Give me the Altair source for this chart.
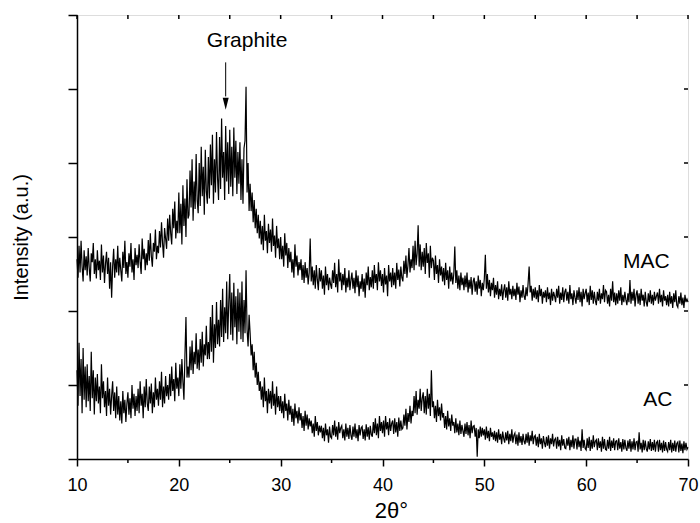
import altair as alt
import pandas as pd

# ---- values (intensity, a.u.), 2theta = 10.0 ... 70.0 step 0.1 ----
mac = [
    2.70, 2.45, 2.88, 2.52, 2.95, 2.60, 2.40, 2.82, 2.55, 2.74,
    2.48, 2.85, 2.58, 2.40, 2.78, 2.66, 2.92, 2.50, 2.70, 2.44,
    2.82, 2.55, 2.68, 2.42, 2.90, 2.52, 2.75, 2.38, 2.64, 2.80,
    2.50, 2.72, 2.30, 2.66, 2.18, 2.60, 2.84, 2.45, 2.70, 2.52,
    2.88, 2.48, 2.72, 2.55, 2.40, 2.80, 2.58, 2.95, 2.50, 2.66,
    2.45, 2.78, 2.60, 2.92, 2.52, 2.70, 2.42, 2.85, 2.62, 2.76,
    2.58, 2.90, 2.66, 2.50, 2.98, 2.70, 2.84, 2.55, 2.78, 2.62,
    2.96, 2.68, 3.05, 2.74, 2.60, 2.92, 2.80, 3.10, 2.70, 2.88,
    2.78, 3.08, 2.86, 3.20, 2.92, 2.72, 3.12, 2.98, 2.84, 3.25,
    2.95, 3.30, 3.05, 2.90, 3.38, 3.12, 3.48, 2.98, 3.22, 3.05,
    3.60, 3.05, 3.45, 2.90, 3.70, 3.15, 3.52, 3.00, 3.78, 3.25,
    3.30, 3.90, 3.40, 4.05, 3.22, 3.75, 3.38, 4.12, 3.50, 3.32,
    4.00, 3.42, 4.22, 3.55, 3.95, 3.30, 4.18, 3.62, 3.45, 4.08,
    3.52, 4.25, 3.70, 4.38, 3.45, 4.05, 3.60, 4.42, 3.80, 3.50,
    4.35, 3.65, 4.60, 3.80, 4.15, 3.50, 4.50, 3.75, 4.28, 3.58,
    4.45, 3.68, 4.22, 3.55, 4.48, 3.80, 4.30, 3.58, 4.15, 3.72,
    4.28, 3.50, 4.05, 3.45, 4.20, 4.30, 5.03, 3.60, 4.00, 3.35,
    3.72, 3.35, 3.60, 3.20, 3.50, 3.12, 3.38, 3.05, 3.30, 2.98,
    3.22, 2.90, 3.15, 2.82, 3.30, 2.95, 3.08, 2.78, 3.18, 2.92,
    3.10, 2.80, 3.25, 2.88, 3.02, 2.72, 3.15, 2.85, 2.98, 2.70,
    3.00, 2.70, 2.88, 2.60, 3.05, 2.75, 2.92, 2.58, 2.85, 2.66,
    2.80, 2.52, 2.70, 2.45, 2.90, 2.60, 2.75, 2.48, 2.66, 2.55,
    2.70, 2.42, 2.62, 2.38, 2.66, 2.45, 2.58, 2.36, 2.52, 2.98,
    2.40, 2.60, 2.35, 2.55, 2.30, 2.62, 2.42, 2.28, 2.58, 2.40,
    2.55, 2.30, 2.48, 2.22, 2.60, 2.35, 2.50, 2.28, 2.45, 2.36,
    2.30, 2.55, 2.38, 2.65, 2.32, 2.50, 2.25, 2.70, 2.40, 2.52,
    2.28, 2.50, 2.35, 2.58, 2.25, 2.45, 2.32, 2.55, 2.28, 2.42,
    2.52, 2.30, 2.45, 2.24, 2.55, 2.32, 2.48, 2.20, 2.40, 2.30,
    2.50, 2.26, 2.44, 2.18, 2.52, 2.35, 2.60, 2.28, 2.46, 2.32,
    2.55, 2.30, 2.62, 2.38, 2.50, 2.28, 2.66, 2.40, 2.55, 2.34,
    2.50, 2.25, 2.58, 2.36, 2.48, 2.20, 2.62, 2.40, 2.52, 2.32,
    2.58, 2.35, 2.52, 2.30, 2.65, 2.42, 2.56, 2.33, 2.60, 2.45,
    2.40, 2.68, 2.50, 2.75, 2.45, 2.62, 2.85, 2.52, 2.70, 2.58,
    2.88, 2.55, 2.95, 2.62, 2.78, 3.16, 2.60, 2.90, 2.55, 2.80,
    2.60, 2.85, 2.50, 2.92, 2.65, 2.78, 2.45, 2.88, 2.58, 2.72,
    2.68, 2.42, 2.75, 2.50, 2.62, 2.38, 2.70, 2.48, 2.60, 2.40,
    2.58, 2.35, 2.65, 2.42, 2.55, 2.30, 2.60, 2.40, 2.52, 2.36,
    2.50, 2.87, 2.38, 2.55, 2.30, 2.48, 2.28, 2.52, 2.35, 2.45,
    2.28, 2.48, 2.32, 2.52, 2.25, 2.42, 2.30, 2.46, 2.22, 2.40,
    2.45, 2.26, 2.40, 2.22, 2.48, 2.30, 2.42, 2.20, 2.38, 2.28,
    2.44, 2.76, 2.30, 2.50, 2.25, 2.42, 2.20, 2.38, 2.28, 2.45,
    2.18, 2.35, 2.22, 2.40, 2.16, 2.30, 2.20, 2.36, 2.15, 2.28,
    2.36, 2.18, 2.32, 2.14, 2.40, 2.22, 2.30, 2.16, 2.34, 2.20,
    2.30, 2.15, 2.38, 2.22, 2.33, 2.12, 2.28, 2.18, 2.35, 2.20,
    2.15, 2.32, 2.20, 2.38, 2.60, 2.25, 2.34, 2.14, 2.30, 2.18,
    2.32, 2.16, 2.28, 2.12, 2.35, 2.20, 2.30, 2.10, 2.26, 2.18,
    2.28, 2.12, 2.32, 2.16, 2.25, 2.08, 2.30, 2.14, 2.26, 2.20,
    2.12, 2.30, 2.18, 2.34, 2.10, 2.25, 2.15, 2.32, 2.12, 2.26,
    2.30, 2.14, 2.26, 2.10, 2.35, 2.16, 2.24, 2.08, 2.28, 2.18,
    2.10, 2.28, 2.15, 2.32, 2.12, 2.26, 2.06, 2.30, 2.16, 2.24,
    2.30, 2.12, 2.25, 2.08, 2.34, 2.15, 2.28, 2.10, 2.26, 2.14,
    2.08, 2.26, 2.14, 2.30, 2.10, 2.24, 2.16, 2.35, 2.12, 2.28,
    2.26, 2.10, 2.22, 2.06, 2.30, 2.14, 2.40, 2.12, 2.25, 2.08,
    2.24, 2.10, 2.28, 2.14, 2.32, 2.08, 2.22, 2.12, 2.26, 2.15,
    2.08, 2.24, 2.12, 2.42, 2.10, 2.26, 2.14, 2.30, 2.06, 2.22,
    2.28, 2.10, 2.24, 2.08, 2.30, 2.14, 2.22, 2.06, 2.26, 2.12,
    2.06, 2.24, 2.12, 2.28, 2.10, 2.22, 2.08, 2.26, 2.14, 2.20,
    2.25, 2.10, 2.30, 2.12, 2.22, 2.06, 2.28, 2.14, 2.20, 2.08,
    2.22, 2.06, 2.26, 2.10, 2.20, 2.04, 2.24, 2.12, 2.28, 2.08,
    2.05, 2.20, 2.10, 2.25, 2.08, 2.18, 2.04, 2.22, 2.12, 2.16,
    2.12,
]

ac = [
    1.20, 0.72, 1.57, 0.85, 1.35, 0.62, 1.50, 0.80, 1.25, 0.70,
    1.28, 0.78, 1.12, 0.65, 1.45, 0.82, 1.20, 0.60, 1.10, 0.78,
    1.15, 0.75, 0.98, 0.62, 1.28, 0.82, 1.05, 0.70, 0.92, 0.58,
    1.10, 0.72, 0.95, 0.60, 0.85, 1.05, 0.65, 0.90, 0.55, 0.98,
    0.60, 0.85, 0.52, 0.78, 0.48, 0.92, 0.62, 0.80, 0.50, 0.75,
    0.90, 0.60, 0.82, 0.55, 1.00, 0.68, 0.88, 0.58, 0.85, 0.65,
    0.95, 0.62, 1.05, 0.72, 0.88, 0.55, 0.98, 0.70, 1.08, 0.75,
    0.65, 0.98, 0.75, 1.02, 0.62, 0.90, 0.70, 1.10, 0.80, 0.95,
    0.72, 1.05, 0.80, 1.18, 0.70, 0.98, 0.75, 1.12, 0.85, 1.00,
    0.80, 1.15, 0.85, 1.25, 0.92, 1.08, 0.78, 1.30, 0.95, 1.10,
    0.85, 1.28, 0.95, 1.35, 1.05, 0.80, 1.40, 1.92, 1.10, 1.25,
    1.10, 1.52, 1.20, 1.60, 1.15, 1.45, 1.28, 1.70, 1.22, 1.48,
    1.20, 1.62, 1.30, 1.72, 1.25, 1.55, 1.40, 1.80, 1.35, 1.58,
    1.35, 1.92, 1.45, 2.08, 1.30, 1.82, 1.50, 2.12, 1.55, 1.88,
    1.52, 2.15, 1.65, 2.30, 1.58, 2.05, 1.70, 2.40, 1.62, 2.10,
    2.50, 1.68, 2.25, 1.60, 2.38, 1.78, 2.20, 1.55, 2.30, 1.72,
    2.25, 1.62, 2.40, 1.58, 2.15, 1.70, 2.55, 1.75, 1.52, 1.95,
    1.70, 1.40, 1.55, 1.20, 1.45, 1.10, 1.30, 1.00, 1.18, 0.92,
    1.05, 0.80, 0.98, 0.70, 1.10, 0.78, 0.92, 0.62, 0.95, 0.75,
    0.92, 0.68, 1.05, 0.72, 0.88, 0.60, 0.98, 0.70, 0.85, 0.65,
    0.85, 0.62, 0.78, 0.55, 0.88, 0.65, 0.75, 0.52, 0.80, 0.60,
    0.72, 0.50, 0.68, 0.45, 0.75, 0.55, 0.65, 0.48, 0.70, 0.52,
    0.62, 0.42, 0.58, 0.38, 0.65, 0.45, 0.60, 0.40, 0.55, 0.44,
    0.52, 0.35, 0.48, 0.30, 0.58, 0.38, 0.50, 0.32, 0.45, 0.36,
    0.45, 0.28, 0.42, 0.24, 0.48, 0.32, 0.40, 0.22, 0.44, 0.30,
    0.28, 0.46, 0.32, 0.52, 0.30, 0.44, 0.26, 0.50, 0.35, 0.42,
    0.45, 0.28, 0.40, 0.25, 0.48, 0.30, 0.42, 0.27, 0.46, 0.32,
    0.26, 0.44, 0.30, 0.48, 0.28, 0.40, 0.24, 0.46, 0.32, 0.42,
    0.44, 0.27, 0.40, 0.25, 0.47, 0.30, 0.43, 0.26, 0.45, 0.33,
    0.30, 0.50, 0.35, 0.55, 0.32, 0.48, 0.28, 0.58, 0.38, 0.50,
    0.35, 0.52, 0.30, 0.58, 0.40, 0.50, 0.32, 0.55, 0.38, 0.48,
    0.52, 0.34, 0.55, 0.36, 0.50, 0.30, 0.56, 0.38, 0.52, 0.40,
    0.42, 0.60, 0.45, 0.68, 0.40, 0.62, 0.50, 0.72, 0.48, 0.65,
    0.58, 0.85, 0.62, 0.92, 0.60, 0.80, 0.68, 0.95, 0.65, 0.82,
    0.90, 0.62, 0.85, 0.60, 0.95, 0.68, 0.88, 0.58, 1.20, 0.70,
    0.78, 0.55, 0.72, 0.50, 0.80, 0.58, 0.70, 0.52, 0.75, 0.56,
    0.62, 0.42, 0.58, 0.40, 0.65, 0.44, 0.55, 0.38, 0.60, 0.45,
    0.50, 0.35, 0.55, 0.36, 0.48, 0.32, 0.52, 0.34, 0.46, 0.38,
    0.30, 0.48, 0.34, 0.50, 0.32, 0.46, 0.28, 0.52, 0.35, 0.44,
    0.45, 0.30, 0.42, 0.03, 0.40, 0.28, 0.44, 0.30, 0.42, 0.32,
    0.40, 0.26, 0.44, 0.28, 0.38, 0.24, 0.42, 0.30, 0.36, 0.26,
    0.38, 0.24, 0.36, 0.22, 0.40, 0.26, 0.34, 0.20, 0.37, 0.28,
    0.22, 0.36, 0.25, 0.38, 0.20, 0.34, 0.24, 0.40, 0.22, 0.32,
    0.35, 0.20, 0.33, 0.18, 0.36, 0.22, 0.31, 0.19, 0.34, 0.24,
    0.20, 0.34, 0.22, 0.36, 0.18, 0.32, 0.24, 0.38, 0.20, 0.30,
    0.32, 0.18, 0.30, 0.16, 0.34, 0.20, 0.28, 0.14, 0.31, 0.22,
    0.16, 0.30, 0.18, 0.32, 0.14, 0.28, 0.20, 0.34, 0.17, 0.26,
    0.28, 0.14, 0.30, 0.17, 0.26, 0.12, 0.32, 0.18, 0.27, 0.15,
    0.14, 0.28, 0.18, 0.30, 0.12, 0.26, 0.16, 0.32, 0.14, 0.27,
    0.27, 0.13, 0.30, 0.16, 0.25, 0.11, 0.40, 0.15, 0.26, 0.14,
    0.12, 0.28, 0.15, 0.30, 0.11, 0.26, 0.14, 0.32, 0.16, 0.24,
    0.26, 0.12, 0.28, 0.15, 0.24, 0.10, 0.30, 0.14, 0.27, 0.13,
    0.12, 0.26, 0.14, 0.30, 0.11, 0.25, 0.15, 0.28, 0.12, 0.24,
    0.25, 0.12, 0.28, 0.14, 0.23, 0.10, 0.27, 0.13, 0.26, 0.15,
    0.11, 0.25, 0.14, 0.27, 0.10, 0.24, 0.13, 0.28, 0.12, 0.23,
    0.24, 0.10, 0.36, 0.13, 0.22, 0.09, 0.26, 0.12, 0.25, 0.14,
    0.10, 0.24, 0.13, 0.27, 0.11, 0.23, 0.12, 0.26, 0.10, 0.22,
    0.24, 0.10, 0.26, 0.12, 0.22, 0.09, 0.25, 0.11, 0.23, 0.13,
    0.10, 0.23, 0.12, 0.26, 0.09, 0.22, 0.11, 0.25, 0.10, 0.21,
    0.23, 0.09, 0.25, 0.11, 0.21, 0.08, 0.24, 0.12, 0.22, 0.13,
    0.16,
]

x_start, x_step = 10.0, 0.1           # sampling grid of the scan
x_ticks = [10, 20, 30, 40, 50, 60, 70]
x_minor = [15, 25, 35, 45, 55, 65]
top_ticks = [10, 15, 20, 25, 30, 35, 40, 45, 50, 55, 60, 65, 70]
y_ticks = [0, 1, 2, 3, 4, 5, 6]
right_ticks = [1, 2, 3, 4, 5]

labels = ["MAC", "AC"]
label_x = [65.9, 67.05]
label_y = [2.66, 0.80]

note_text = ["Graphite"]
note_x = [26.7]
note_y = [5.65]
arrow_x = [24.6]
arrow_top = [5.36]
arrow_bottom = [4.90]
arrow_head = [4.80]

FONT = "Liberation Sans"

assert len(mac) == 601 and len(ac) == 601

rows = []
for name, vals in (("MAC", mac), ("AC", ac)):
    for i, v in enumerate(vals):
        rows.append({"x": round(x_start + i * x_step, 1), "y": v, "series": name})
df = pd.DataFrame(rows)

xs = alt.Scale(domain=[10, 70], nice=False, zero=False)
ys = alt.Scale(domain=[0, 6], nice=False, zero=False)

xaxis = alt.Axis(values=x_ticks, title="2θ°", tickSize=7, tickWidth=1.5,
                 tickColor="black", domainColor="black", domainWidth=1.5,
                 labelFont=FONT, labelFontSize=18, labelColor="black",
                 labelFlush=False, labelPadding=10, titleFont=FONT,
                 titleFontSize=22, titleFontWeight="normal",
                 titleColor="black", titlePadding=6, titleX=314,
                 titleAlign="center", grid=False, format="d")
yaxis = alt.Axis(values=y_ticks, title="Intensity (a.u.)", tickSize=9,
                 tickWidth=1.5, tickColor="black", domainColor="black",
                 domainWidth=1.5, labels=False, titleFont=FONT,
                 titleFontSize=20, titleFontWeight="normal",
                 titleColor="black", titlePadding=36, grid=False)

X = alt.X("x:Q", scale=xs, axis=xaxis)
Y = alt.Y("y:Q", scale=ys, axis=yaxis)

lines = alt.Chart(df).mark_line(color="black", strokeWidth=1.2).encode(
    x=X, y=Y, detail="series:N")

tick_len_y = 4 / 74.0
tick_len_x = 4 / 10.18

minor_df = pd.DataFrame({"x": x_minor, "y": [0] * len(x_minor),
                         "y2": [-tick_len_y] * len(x_minor)})
minor = alt.Chart(minor_df).mark_rule(color="black", strokeWidth=1.5).encode(
    x=X, y=Y, y2="y2:Q")

top_df = pd.DataFrame({"x": top_ticks, "y": [6] * len(top_ticks),
                       "y2": [6 - tick_len_y] * len(top_ticks)})
top = alt.Chart(top_df).mark_rule(color="black", strokeWidth=1.5).encode(
    x=X, y=Y, y2="y2:Q")

right_df = pd.DataFrame({"x": [70] * len(right_ticks),
                         "x2": [70 - tick_len_x] * len(right_ticks),
                         "y": right_ticks})
right = alt.Chart(right_df).mark_rule(color="black", strokeWidth=1.5).encode(
    x=X, x2="x2:Q", y=Y)

lab_df = pd.DataFrame({"x": label_x, "y": label_y, "t": labels})
lab = alt.Chart(lab_df).mark_text(font=FONT, fontSize=21, color="black",
                                  baseline="middle", align="center").encode(
    x=X, y=Y, text="t:N")

note_df = pd.DataFrame({"x": note_x, "y": note_y, "t": note_text})
note = alt.Chart(note_df).mark_text(font=FONT, fontSize=21, color="black",
                                    baseline="middle", align="center").encode(
    x=X, y=Y, text="t:N")

arrow_df = pd.DataFrame({"x": arrow_x, "y": arrow_top, "y2": arrow_bottom})
arrow = alt.Chart(arrow_df).mark_rule(color="black", strokeWidth=1).encode(
    x=X, y=Y, y2="y2:Q")

head_df = pd.DataFrame({"x": arrow_x, "y": arrow_head})
head = alt.Chart(head_df).mark_point(
    shape="M-0.5,-1L0.5,-1L0,1Z", size=144, filled=True, color="black",
    opacity=1, strokeWidth=0).encode(x=X, y=Y)

chart = alt.layer(lines, minor, top, right, arrow, head, note, lab).properties(
    width=611, height=444,
    autosize=alt.AutoSizeParams(type="none"),
    padding={"left": 77, "top": 15, "right": 12, "bottom": 64},
).configure_view(stroke="black", strokeWidth=1.5).configure(background="white")

chart.save("out.html", embed_options={"renderer": "svg", "actions": False})
